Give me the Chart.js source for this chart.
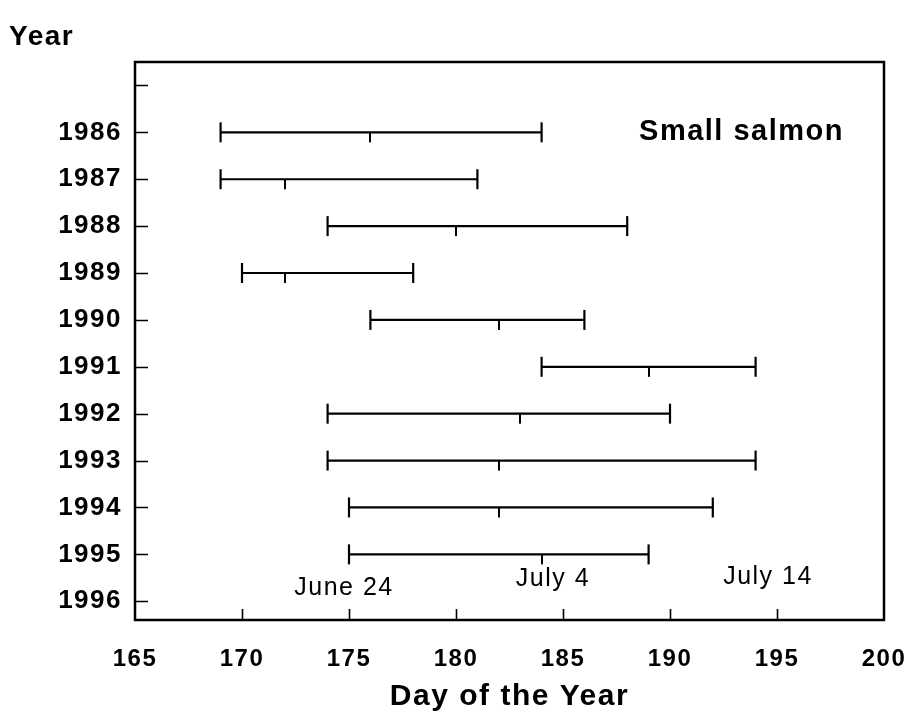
<!DOCTYPE html>
<html>
<head>
<meta charset="utf-8">
<script src="https://cdn.jsdelivr.net/npm/chart.js@4.4.1/dist/chart.umd.min.js"></script>
<style>
  html, body { margin: 0; padding: 0; background: #ffffff; }
  #c { display: block; }
</style>
</head>
<body>
<canvas id="c" width="913" height="727"></canvas>
<script>
// ---- data ----
const yearLabels = ['', '1986', '1987', '1988', '1989', '1990', '1991', '1992', '1993', '1994', '1995', '1996'];
const years      = ['1986', '1987', '1988', '1989', '1990', '1991', '1992', '1993', '1994', '1995'];
const startDays  = [169, 169, 174, 170, 176, 184, 174, 174, 175, 175];
const midDays    = [176, 172, 180, 172, 182, 189, 183, 182, 182, 184];
const endDays    = [184, 181, 188, 178, 186, 194, 190, 194, 192, 189];
const xTicks     = [165, 170, 175, 180, 185, 190, 195, 200];
const dateLabels = ['June 24', 'July 4', 'July 14'];
const dateDays   = [175, 185, 195];

const INK = '#000000';
const FONT = '"Liberation Sans", Arial, sans-serif';

// half tick (downward) for the median mark
const midMark = document.createElement('canvas');
midMark.width = 2; midMark.height = 22;
{
  const g = midMark.getContext('2d');
  g.fillStyle = INK;
  g.fillRect(0, 11, 2, 10);
}

const datasets = years.map((yr, i) => {
  const row = yearLabels.indexOf(yr);
  return {
    label: yr,
    data: [{ x: startDays[i], y: row }, { x: endDays[i], y: row }],
    showLine: true,
    borderColor: INK,
    borderWidth: 2.2,
    pointStyle: 'line',
    rotation: 90,
    pointRadius: 10,
    pointBorderWidth: 2.2,
    pointBorderColor: INK,
    pointBackgroundColor: INK
  };
});
datasets.push({
  label: 'median',
  data: years.map((yr, i) => ({ x: midDays[i], y: yearLabels.indexOf(yr) })),
  showLine: false,
  pointStyle: midMark,
  pointRadius: 10
});

const boxAndText = {
  id: 'boxAndText',
  beforeDraw(chart) {
    try { chart.ctx.letterSpacing = '1.5px'; } catch (e) {}
  },
  afterDraw(chart) {
    const ctx = chart.ctx;
    const a = chart.chartArea;
    const xs = chart.scales.x, ys = chart.scales.y;
    ctx.save();
    ctx.strokeStyle = INK;
    ctx.lineWidth = 2.5;
    ctx.strokeRect(a.left, a.top, a.right - a.left, a.bottom - a.top);
    // inside ticks
    ctx.lineWidth = 1.6;
    ctx.beginPath();
    ys.ticks.forEach(t => {
      const y = Math.round(ys.getPixelForValue(t.value)) + 0.5;
      ctx.moveTo(a.left, y); ctx.lineTo(a.left + 13, y);
    });
    xTicks.forEach(v => {
      if (v <= xs.min || v >= xs.max) return;
      const x = Math.round(xs.getPixelForValue(v)) + 0.5;
      ctx.moveTo(x, a.bottom); ctx.lineTo(x, a.bottom - 11);
    });
    ctx.stroke();

    ctx.fillStyle = INK;
    try { ctx.letterSpacing = '1.5px'; } catch (e) {}
    // y axis title
    ctx.font = 'bold 28px ' + FONT;
    ctx.textAlign = 'left';
    ctx.textBaseline = 'alphabetic';
    ctx.fillText('Year', 9, 45);
    // panel label
    ctx.font = 'bold 29px ' + FONT;
    ctx.textAlign = 'right';
    ctx.fillText('Small salmon', 844, 140);
    // x axis title
    ctx.font = 'bold 30px ' + FONT;
    ctx.textAlign = 'center';
    ctx.fillText('Day of the Year', (a.left + a.right) / 2, 705);
    // date annotations
    ctx.font = '25px ' + FONT;
    const baselines = [595, 586, 584];
    const shifts = [-5, -10, -9];
    dateLabels.forEach((s, i) => {
      ctx.fillText(s, xs.getPixelForValue(dateDays[i]) + shifts[i], baselines[i]);
    });
    ctx.restore();
  }
};

new Chart(document.getElementById('c'), {
  type: 'scatter',
  data: { datasets },
  options: {
    responsive: false,
    animation: false,
    events: [],
    layout: { padding: { top: 62, right: 29, left: 0, bottom: 0 } },
    plugins: { legend: { display: false }, tooltip: { enabled: false } },
    scales: {
      x: {
        type: 'linear',
        min: 165, max: 200,
        afterBuildTicks: s => { s.ticks = xTicks.map(v => ({ value: v })); },
        afterFit: s => { s.height = 107; s.paddingLeft = 0; s.paddingRight = 0; },
        grid: { display: false },
        border: { display: false },
        ticks: {
          color: INK,
          padding: 17,
          font: { family: FONT, size: 24, weight: 'bold' },
          maxRotation: 0,
          callback: v => String(v)
        }
      },
      y: {
        type: 'linear',
        reverse: true,
        min: -0.5, max: 11.4,
        afterBuildTicks: s => { s.ticks = yearLabels.map((_, i) => ({ value: i })); },
        afterFit: s => { s.width = 135; s.paddingTop = 0; s.paddingBottom = 0; },
        grid: { display: false },
        border: { display: false },
        ticks: {
          color: INK,
          padding: 5,
          font: { family: FONT, size: 26, weight: 'bold' },
          callback: v => yearLabels[v] || ''
        }
      }
    }
  },
  plugins: [boxAndText]
});
</script>
</body>
</html>
